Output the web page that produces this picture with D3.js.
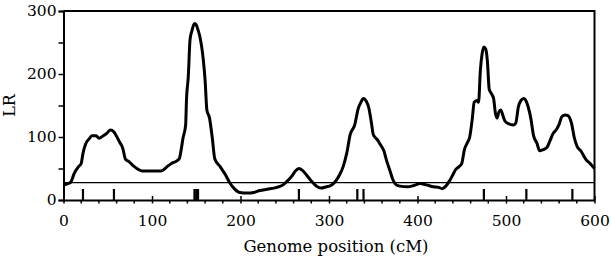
<!DOCTYPE html>
<html>
<head>
<meta charset="utf-8">
<script src="https://cdn.jsdelivr.net/npm/d3@7"></script>
<style>
  body { margin: 0; background: #fff; }
  text { font-family: "DejaVu Serif", serif; fill: #000; }
</style>
</head>
<body>
<div id="chart"></div>
<script>
// LR profile along the genome
let position = [0,5,8,12,17,20,22,25,29,32,37,40,45,49,53,57,60,63,67,70,74,79,84,89,100,110,114,117,122,128,131,133,135,138,139,141,143,145,148,150,152,154,158,160,162,165,168,171,177,183,188,193,199,208,215,222,230,241,248,252,258,262,266,270,275,280,286,291,297,302,307,312,316,320,324,329,333,336,339,342,345,348,350,355,358,362,365,369,372,376,380,389,396,403,410,418,424,428,432,436,440,443,447,450,453,456,459,462,464,467,469,471,473,475,477,479,481,483,486,488,490,492,494,497,499,503,508,511,514,517,520,523,525,528,531,535,538,542,546,550,553,557,560,563,567,570,574,577,580,585,590,595,600];
let lr = [24,26,28,42,53,58,74,89,97,102,102,98,102,106,111,108,101,93,82,65,61,54,49,46,46,46,49,53,58,62,66,80,98,119,160,196,255,268,280,278,270,260,222,190,143,130,100,65,53,40,27,18,12,11,12,15,17,20,24,29,38,46,50,47,39,30,22,19,21,23,29,40,53,74,104,119,145,155,161,157,146,122,104,95,88,78,63,46,33,24,22,21,23,26,24,21,20,18,22,30,40,48,53,58,80,90,100,130,155,158,155,205,232,243,240,220,176,170,161,138,130,140,143,132,125,121,119,122,148,158,161,156,148,130,103,90,78,80,83,95,105,112,120,132,135,134,122,100,86,77,65,58,50];
let markers = [22, 57, 148, 150, 152, 266, 332, 339, 475, 523, 575];
let threshold = 27.5;
let xTicks = [0, 100, 200, 300, 400, 500, 600];
let xMinorTicks = d3.range(20, 600, 20).filter(function(d){ return d % 100 !== 0; });
let yTicks = [0, 50, 100, 150, 200, 250, 300];
let yLabels = [0, 100, 200, 300];

let width = 611, height = 257;
let margin = {top: 11, right: 16.5, bottom: 57, left: 63.5};

let svg = d3.select("#chart").append("svg")
    .attr("width", width)
    .attr("height", height);

let x = d3.scaleLinear().domain([0, 600]).range([margin.left, width - margin.right]);
let y = d3.scaleLinear().domain([0, 300]).range([height - margin.bottom, margin.top]);

// threshold line
svg.append("line")
    .attr("x1", x(0)).attr("x2", x(600))
    .attr("y1", y(threshold)).attr("y2", y(threshold))
    .attr("stroke", "#000")
    .attr("stroke-width", 1.2);

// marker positions
svg.append("g").selectAll("line")
    .data(markers)
  .enter().append("line")
    .attr("x1", function(d){ return x(d); })
    .attr("x2", function(d){ return x(d); })
    .attr("y1", y(0))
    .attr("y2", y(0) - 11)
    .attr("stroke", "#000")
    .attr("stroke-width", 2.2);

// LR curve
let line = d3.line()
    .x(function(d, i){ return x(position[i]); })
    .y(function(d){ return y(d); })
    .curve(d3.curveMonotoneX);

svg.append("path")
    .datum(lr)
    .attr("d", line)
    .attr("fill", "none")
    .attr("stroke", "#000")
    .attr("stroke-width", 3)
    .attr("stroke-linejoin", "round");

// frame: top and right
svg.append("path")
    .attr("d", "M" + x(0) + "," + y(300) + "H" + x(600) + "V" + y(0))
    .attr("fill", "none")
    .attr("stroke", "#000")
    .attr("stroke-width", 2);

// y axis
let yAxis = svg.append("g")
    .attr("transform", "translate(" + x(0) + ",0)")
    .call(d3.axisLeft(y).tickValues(yTicks).tickSize(5).tickFormat(function(d){
      return yLabels.indexOf(d) >= 0 ? d : "";
    }));
yAxis.select(".domain").attr("stroke-width", 2);
yAxis.selectAll(".tick line").attr("stroke-width", 1.5);
yAxis.selectAll("text")
    .attr("x", -7)
    .attr("font-size", 15.5)
    .attr("font-family", "DejaVu Serif");

// x axis minor ticks
svg.append("g").selectAll("line")
    .data(xMinorTicks)
  .enter().append("line")
    .attr("x1", function(d){ return x(d); })
    .attr("x2", function(d){ return x(d); })
    .attr("y1", y(0))
    .attr("y2", y(0) + 3.5)
    .attr("stroke", "#000")
    .attr("stroke-width", 1.5);

let xAxis = svg.append("g")
    .attr("transform", "translate(0," + y(0) + ")")
    .call(d3.axisBottom(x).tickValues(xTicks).tickSizeInner(3.5).tickSizeOuter(0));
xAxis.select(".domain").attr("stroke-width", 2);
xAxis.selectAll(".tick line").attr("y1", -4).attr("stroke-width", 1.5);
xAxis.selectAll("text")
    .attr("y", 15)
    .attr("font-size", 15.5)
    .attr("font-family", "DejaVu Serif");

// axis titles
svg.append("text")
    .attr("x", (x(0) + x(600)) / 2 + 7)
    .attr("y", 251.5)
    .attr("text-anchor", "middle")
    .attr("font-size", 16.5)
    .text("Genome position (cM)");

svg.append("text")
    .attr("transform", "translate(15," + y(150) + ") rotate(-90)")
    .attr("text-anchor", "middle")
    .attr("font-size", 16)
    .text("LR");
</script>
</body>
</html>
